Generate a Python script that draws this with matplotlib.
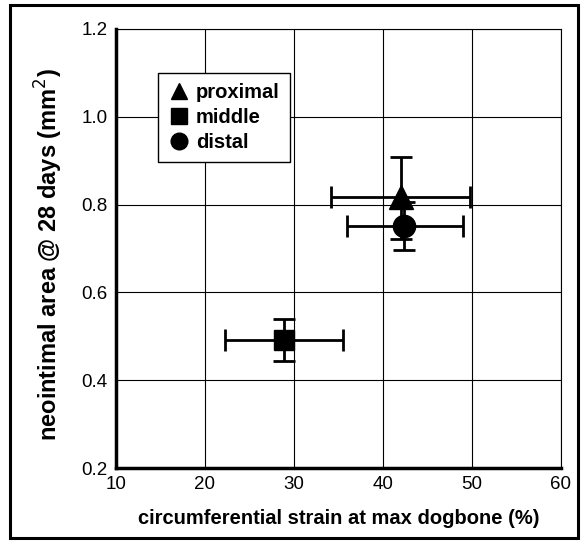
import numpy as np
import matplotlib
matplotlib.use("Agg")
import matplotlib.pyplot as plt
from matplotlib.lines import Line2D
from matplotlib.patches import Rectangle

plt.rcParams["font.family"] = ["Liberation Sans", "DejaVu Sans"]

# values
groups = ["proximal", "middle", "distal"]
markers = ["^", "s", "o"]
strain = [42.0, 28.9, 42.4]
strain_lo = [34.2, 22.2, 36.0]
strain_hi = [49.8, 35.5, 49.0]
area = [0.817, 0.491, 0.751]
area_lo = [0.722, 0.444, 0.696]
area_hi = [0.908, 0.539, 0.805]

fig = plt.figure(figsize=(5.84, 5.44), dpi=100)
ax = fig.add_axes([0.1986, 0.1397, 0.762, 0.807])

# outer frame round the whole figure
fig.patches.append(Rectangle((10/584, 6/544), 568/584, 533/544, transform=fig.transFigure,
                             fill=False, edgecolor="black", linewidth=2.2))

sizes = [17, 15, 16]
for i in range(len(groups)):
    xe = [[strain[i]-strain_lo[i]], [strain_hi[i]-strain[i]]]
    ye = [[area[i]-area_lo[i]], [area_hi[i]-area[i]]]
    ax.errorbar(strain[i], area[i], xerr=xe, yerr=ye, fmt=markers[i], color="black",
                markersize=sizes[i], elinewidth=2, capsize=8, capthick=2, zorder=3)

ax.set_xlim(10, 60)
ax.set_ylim(0.2, 1.2)
ax.set_xticks(np.arange(10, 61, 10))
ax.set_yticks(np.arange(0.2, 1.21, 0.2))
ax.set_yticklabels(["0.2", "0.4", "0.6", "0.8", "1.0", "1.2"])
ax.grid(True, color="black", linewidth=0.8)
ax.set_axisbelow(True)
ax.tick_params(length=0, labelsize=13.5, pad=6)
ax.spines["left"].set_linewidth(2.5)
ax.spines["bottom"].set_linewidth(2.5)
ax.spines["top"].set_linewidth(0.8)
ax.spines["right"].set_linewidth(0.8)

ax.set_xlabel("circumferential strain at max dogbone (%)", fontsize=14.5, fontweight="bold", labelpad=11)
ax.set_ylabel("neointimal area @ 28 days (mm$^2$)", fontsize=17, fontweight="bold")
ax.yaxis.set_label_coords(-0.115, 0.485)

handles = [Line2D([], [], marker=markers[i], color="black", linestyle="none", markersize=12)
           for i in range(len(groups))]
leg = ax.legend(handles, groups, loc="upper left", bbox_to_anchor=(0.094, 0.9),
                borderaxespad=0, fancybox=False, edgecolor="black", framealpha=1,
                prop={"weight": "bold", "size": 14.5}, handletextpad=0.3, borderpad=0.5,
                labelspacing=0.3, handlelength=1.1)
leg.get_frame().set_linewidth(1)

plt.savefig("out.png", dpi=100)
